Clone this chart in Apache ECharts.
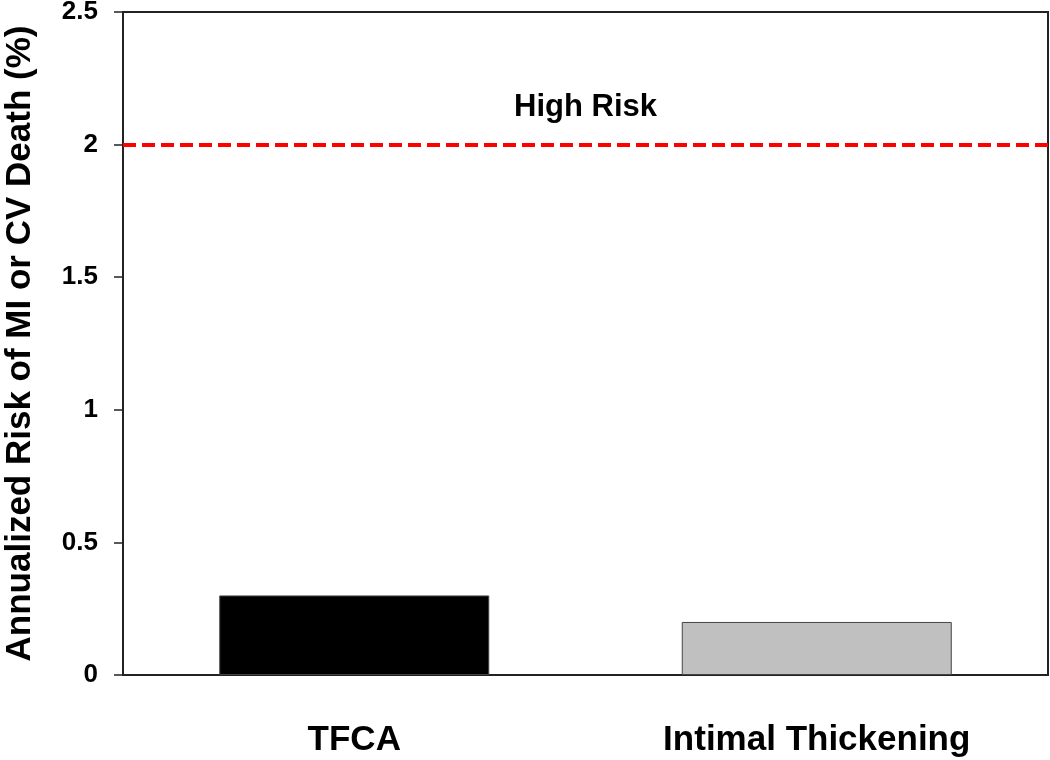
<!DOCTYPE html>
<html>
<head>
<meta charset="utf-8">
<script src="https://cdn.jsdelivr.net/npm/echarts@6/dist/echarts.min.js"></script>
<style>html,body{margin:0;padding:0;background:#fff}#c{width:1050px;height:760px}</style>
</head>
<body>
<div id="c"></div>
<script>
const categories = ['TFCA', 'Intimal Thickening'];
const riskValues = [0.3, 0.2];
const barColors = ['#000000', '#c0c0c0'];
const yTicks = [0, 0.5, 1, 1.5, 2, 2.5];
const highRiskThreshold = 2;
const highRiskLabel = 'High Risk';
const yAxisTitle = 'Annualized Risk of MI or CV Death (%)';

const FONT = 'Liberation Sans, Arial, sans-serif';
const chart = echarts.init(document.getElementById('c'));
chart.setOption({
  animation: false,
  backgroundColor: '#fff',
  grid: {left: 123, right: 2, top: 12, bottom: 85, containLabel: false, outerBoundsMode: 'none',
         show: true, borderColor: '#222', borderWidth: 2, backgroundColor: 'transparent'},
  xAxis: {
    type: 'category',
    data: categories,
    axisLine: {show: true, lineStyle: {color: '#222', width: 2}},
    axisTick: {show: false},
    axisLabel: {color: '#000', fontFamily: FONT, fontWeight: 'bold', fontSize: 35, margin: 48}
  },
  yAxis: {
    type: 'value',
    min: yTicks[0], max: yTicks[yTicks.length - 1], interval: 0.5,
    name: yAxisTitle,
    nameLocation: 'middle',
    nameGap: 85,
    nameTextStyle: {color: '#000', fontFamily: FONT, fontWeight: 'bold', fontSize: 35},
    axisLine: {show: true, lineStyle: {color: '#222', width: 2}},
    axisTick: {show: true, length: 9, lineStyle: {color: '#222', width: 1.5}},
    splitLine: {show: false},
    axisLabel: {color: '#000', fontFamily: FONT, fontWeight: 'bold', fontSize: 26, margin: 25}
  },
  series: [{
    type: 'bar',
    barWidth: 270,
    data: riskValues.map((v, i) => ({value: v, itemStyle: {color: barColors[i], borderColor: '#444', borderWidth: 1}})),
    markLine: {
      silent: true,
      symbol: 'none',
      lineStyle: {color: '#ff0000', type: [13, 6], width: 4},
      label: {show: true, formatter: highRiskLabel, position: 'insideMiddleTop', distance: 22, color: '#000', fontFamily: FONT, fontWeight: 'bold', fontSize: 31},
      data: [{yAxis: highRiskThreshold}]
    }
  }]
});
</script>
</body>
</html>
